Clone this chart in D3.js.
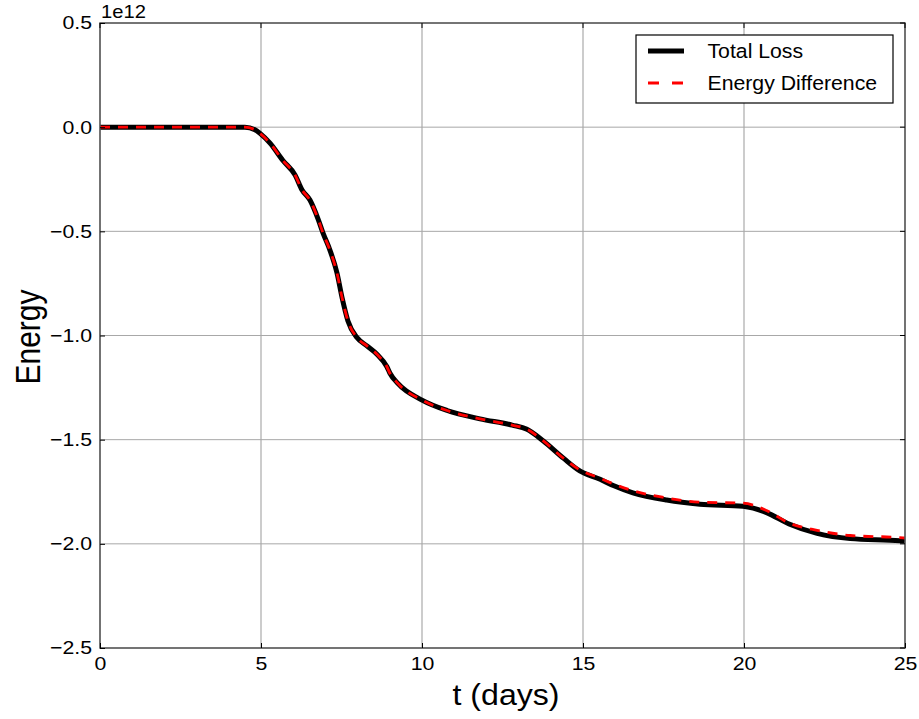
<!DOCTYPE html>
<html><head><meta charset="utf-8">
<script src="https://cdn.jsdelivr.net/npm/d3@7"></script>
<style>body{margin:0;background:#fff}svg{display:block}text{font-family:"Liberation Sans",Arial,sans-serif}</style>
</head><body><svg id="c" width="919" height="719"></svg>
<script>
const tTotal=[0,1,2,3,4,4.5,4.81,4.97,5.28,5.68,6.06,6.27,6.52,6.77,6.93,7.14,7.36,7.52,7.70,7.98,8.29,8.6,8.91,9.0,9.25,10.0,10.78,11.8,12.8,13.26,13.76,14.4,14.9,15.53,15.94,16.55,17.6,18.63,19.97,20.7,21.4,22.27,23.3,24.84,25];
const totalLoss=[0,0,0,0,0,0,-0.012,-0.03,-0.077,-0.16,-0.23,-0.30,-0.35,-0.44,-0.51,-0.59,-0.70,-0.82,-0.93,-1.01,-1.05,-1.09,-1.15,-1.18,-1.23,-1.31,-1.36,-1.40,-1.43,-1.45,-1.505,-1.59,-1.65,-1.69,-1.72,-1.755,-1.79,-1.81,-1.82,-1.85,-1.905,-1.95,-1.975,-1.985,-1.987];
const energyDiff=[0,0,0,0,0,0,-0.012,-0.03,-0.077,-0.16,-0.23,-0.30,-0.35,-0.44,-0.51,-0.59,-0.70,-0.82,-0.93,-1.01,-1.05,-1.09,-1.15,-1.18,-1.23,-1.31,-1.36,-1.40,-1.43,-1.45,-1.505,-1.59,-1.645,-1.685,-1.712,-1.745,-1.78,-1.80,-1.805,-1.84,-1.90,-1.935,-1.96,-1.97,-1.972];
const xTicks=[0,5,10,15,20,25];
const yTicks=[0.5,0.0,-0.5,-1.0,-1.5,-2.0,-2.5];
const seriesNames=["Total Loss","Energy Difference"];

const svg=d3.select("#c");
const L=100,R=905,T=23,B=648;
const x=d3.scaleLinear().domain([0,25]).range([L,R]);
const y=d3.scaleLinear().domain([-2.5,0.5]).range([B,T]);
const SX=1.15;

// grid
const g=svg.append("g");
g.selectAll(".vx").data(xTicks).enter().append("line")
 .attr("x1",d=>x(d)).attr("x2",d=>x(d)).attr("y1",T).attr("y2",B)
 .attr("stroke","#999").attr("stroke-width",1);
g.selectAll(".hy").data(yTicks).enter().append("line")
 .attr("y1",d=>y(d)).attr("y2",d=>y(d)).attr("x1",L).attr("x2",R)
 .attr("stroke","#a8a8a8").attr("stroke-width",1);

// lines
const line=d3.line().x(d=>x(d[0])).y(d=>y(d[1])).curve(d3.curveMonotoneX);
svg.append("path").datum(tTotal.map((t,i)=>[t,totalLoss[i]]))
 .attr("d",line).attr("fill","none").attr("stroke","#000").attr("stroke-width",5).attr("stroke-linejoin","round");
svg.append("path").datum(tTotal.map((t,i)=>[t,energyDiff[i]]))
 .attr("d",line).attr("fill","none").attr("stroke","#ff0000").attr("stroke-width",2.8).attr("stroke-dasharray","10,8");

// axes frame
svg.append("rect").attr("x",L).attr("y",T).attr("width",R-L).attr("height",B-T)
 .attr("fill","none").attr("stroke","#555").attr("stroke-width",1.5);

const xa=d3.axisBottom(x).tickValues(xTicks).tickSizeInner(-5).tickSizeOuter(0).tickPadding(9).tickFormat(d3.format("d"));
const xg=svg.append("g").attr("transform",`translate(0,${B})`).call(xa);
xg.select(".domain").remove();
xg.selectAll("text").attr("font-size",18.5).attr("fill","#000").attr("transform",`scale(${SX},1)`);
const ya=d3.axisLeft(y).tickValues(yTicks).tickSizeInner(-5).tickSizeOuter(0).tickFormat(d=>d3.format(".1f")(d).replace("-","\u2212"));
const yg=svg.append("g").attr("transform",`translate(${L},0)`).call(ya);
yg.select(".domain").remove();
yg.selectAll("text").attr("font-size",18.5).attr("fill","#000").attr("x",-8/SX).attr("transform",`scale(${SX},1)`);
// top & right ticks
svg.selectAll(".tt").data(xTicks).enter().append("line").attr("x1",d=>x(d)).attr("x2",d=>x(d)).attr("y1",T).attr("y2",T+5).attr("stroke","#000");
svg.selectAll(".rt").data(yTicks).enter().append("line").attr("y1",d=>y(d)).attr("y2",d=>y(d)).attr("x1",R).attr("x2",R-5).attr("stroke","#000");

svg.append("text").attr("transform",`translate(${L+1},18) scale(1.12,1)`).attr("font-size",18).text("1e12");
svg.append("text").attr("transform",`translate(506,705) scale(1.07,1)`).attr("text-anchor","middle").attr("font-size",30).text("t (days)");
svg.append("text").attr("transform",`translate(40,337) scale(1.14,1) rotate(-90)`).attr("text-anchor","middle").attr("font-size",30).text("Energy");

// legend
const lg=svg.append("g");
lg.append("rect").attr("x",636).attr("y",35).attr("width",257).attr("height",68).attr("fill","#fff").attr("stroke","#000").attr("stroke-width",1.2);
lg.append("line").attr("x1",648).attr("x2",684).attr("y1",51).attr("y2",51).attr("stroke","#000").attr("stroke-width",5);
lg.append("line").attr("x1",648).attr("x2",684).attr("y1",83).attr("y2",83).attr("stroke","#f00").attr("stroke-width",2.8).attr("stroke-dasharray","11,13");
lg.append("text").attr("transform","translate(707.5,58.3) scale(1.09,1)").attr("font-size",19.5).text(seriesNames[0]);
lg.append("text").attr("transform","translate(707.5,90) scale(1.09,1)").attr("font-size",19.5).text(seriesNames[1]);
</script></body></html>
